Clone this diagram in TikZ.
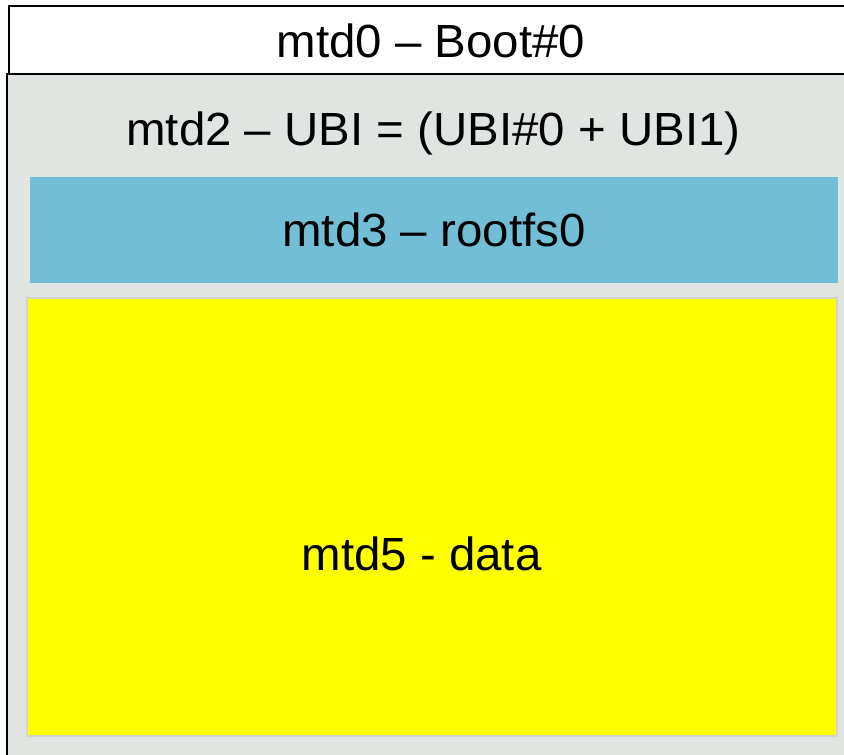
\documentclass[tikz,border=0pt]{standalone}
\usepackage{fontspec}
\usepackage{graphicx}
\setmainfont{Liberation Sans}
\definecolor{panelgray}{RGB}{225,229,226}
\definecolor{rootblue}{RGB}{113,190,214}
\definecolor{edgegray}{RGB}{208,212,210}
\definecolor{datayellow}{RGB}{255,255,0}
\newcommand{\lbltext}[1]{\fontsize{46.5}{55}\selectfont\scalebox{1.02}[1]{#1}}
\begin{document}
\begin{tikzpicture}[x=1pt,y=-1pt,
  lbl/.style={anchor=base,inner sep=0pt},
  blackline/.style={draw=black,line width=2pt}]
\useasboundingbox (0,0) rectangle (844,755);
\clip (0,0) rectangle (844,755);
% gray UBI panel
\path[fill=panelgray] (7,74) rectangle (870,780);
\draw[blackline] (7,780) -- (7,74) -- (870,74);
% top Boot box
\draw[blackline,fill=white] (870,6) -- (9,6) -- (9,74) -- (870,74);
% rootfs
\fill[rootblue] (30,177) rectangle (838,283);
% data
\draw[draw=edgegray,line width=2pt,fill=datayellow] (27,298) rectangle (837,736);
% labels
\node[lbl] (boot) at (431,57) {\lbltext{mtd0 – Boot\#0}};
\node[lbl] (ubi) at (433.5,145) {\lbltext{mtd2 – UBI = (UBI\#0 + UBI1)}};
\node[lbl] (rootfs) at (434,246.5) {\lbltext{mtd3 – rootfs0}};
\node[lbl] (data) at (421.5,570) {\lbltext{mtd5 - data}};
\end{tikzpicture}
\end{document}
